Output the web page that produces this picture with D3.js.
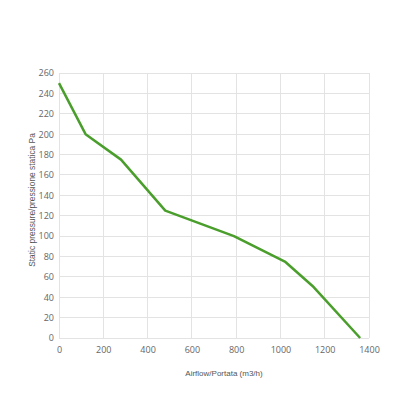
<!DOCTYPE html>
<html><head><meta charset="utf-8">
<script src="https://cdn.jsdelivr.net/npm/d3@7"></script>
<style>body{margin:0;background:#fff;font-family:"Open Sans",sans-serif;}</style>
</head><body><svg id="c" width="416" height="416"></svg>
<script>
const airflow = [0, 120, 280, 480, 790, 1020, 1150, 1360];
const pressure = [250, 200, 175, 125, 100, 75, 50, 0];
const xTicks = [0, 200, 400, 600, 800, 1000, 1200, 1400];
const yTicks = [0, 20, 40, 60, 80, 100, 120, 140, 160, 180, 200, 220, 240, 260];

const svg = d3.select("#c");
const x = d3.scaleLinear().domain([0, 1400]).range([59, 369]);
const y = d3.scaleLinear().domain([0, 260]).range([338, 73]);

const g = svg.append("g");
g.selectAll(".gx").data(xTicks).enter().append("line")
  .attr("x1", d => x(d)).attr("x2", d => x(d)).attr("y1", y(260)).attr("y2", y(0))
  .attr("stroke", "#e3e3e3").attr("stroke-width", 1).attr("shape-rendering","crispEdges");
g.selectAll(".gy").data(yTicks).enter().append("line")
  .attr("x1", x(0)).attr("x2", x(1400)).attr("y1", d => y(d)).attr("y2", d => y(d))
  .attr("stroke", "#e3e3e3").attr("stroke-width", 1).attr("shape-rendering","crispEdges");

const xAxis = svg.append("g").attr("transform", `translate(0,${y(0)})`)
  .call(d3.axisBottom(x).tickValues(xTicks).tickFormat(d3.format("d")).tickSize(0).tickPadding(9));
const yAxis = svg.append("g").attr("transform", `translate(${x(0)},0)`)
  .call(d3.axisLeft(y).tickValues(yTicks).tickFormat(d3.format("d")).tickSize(0).tickPadding(5));
[xAxis, yAxis].forEach(a => {
  a.select(".domain").remove();
  a.selectAll("text").attr("fill", "#666").style("font-size", "9px").style("font-family", "Open Sans, sans-serif");
});

svg.append("path").datum(airflow.map((a, i) => [a, pressure[i]]))
  .attr("d", d3.line().x(d => x(d[0])).y(d => y(d[1])))
  .attr("fill", "none").attr("stroke", "#4a9e2b").attr("stroke-width", 2.5)
  .attr("stroke-linejoin", "round");

svg.append("text").attr("x", 224).attr("y", 376).attr("text-anchor", "middle")
  .attr("fill", "#555").style("font-size", "8px").style("font-family", "Liberation Sans, Arial, sans-serif")
  .text("Airflow/Portata (m3/h)");
svg.append("text").attr("transform", "translate(35,200) rotate(-90)").attr("text-anchor", "middle")
  .attr("fill", "#555").style("font-size", "8.4px").style("font-family", "Liberation Sans, Arial, sans-serif")
  .text("Static pressure/pressione statica Pa");
</script></body></html>
